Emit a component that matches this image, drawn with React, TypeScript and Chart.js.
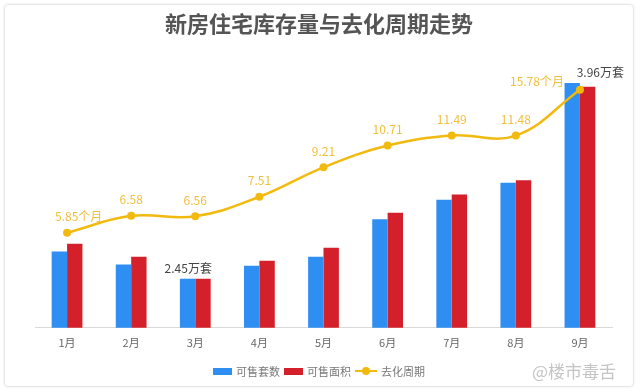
import React, { useEffect, useRef } from "react";
import { Chart, registerables } from "chart.js";

Chart.register(...registerables);

const months = ["1月", "2月", "3月", "4月", "5月", "6月", "7月", "8月", "9月"];
// 可售套数 (万套)
const unitsForSale = [2.66, 2.56, 2.45, 2.55, 2.62, 2.91, 3.06, 3.19, 3.96];
// 可售面积 (same visual scale)
const areaForSale = [2.72, 2.62, 2.45, 2.59, 2.69, 2.96, 3.1, 3.21, 3.93];
// 去化周期 (个月)
const cycleMonths = [5.85, 6.58, 6.56, 7.51, 9.21, 10.71, 11.49, 11.48, 15.78];
const cycleLabels = ["5.85个月", "6.58", "6.56", "7.51", "9.21", "10.71", "11.49", "11.48", "15.78个月"];
const barLabels = ["", "", "2.45万套", "", "", "", "", "", "3.96万套"];
const seriesNames = ["可售套数", "可售面积", "去化周期"];
const titleText = "新房住宅库存量与去化周期走势";
const watermark = "@楼市毒舌";

const BLUE = "#2f8ef2";
const RED = "#d3202a";
const GOLD = "#f2b90f";
const GOLD_TEXT = "#f0bf3c";
const FONT = "'Noto Sans CJK SC', 'Noto Sans', sans-serif";

const labelPlugin = {
  id: "valueLabels",
  afterDatasetsDraw(chart: any) {
    const ctx = chart.ctx;
    ctx.save();
    ctx.textBaseline = "middle";
    const lineMeta = chart.getDatasetMeta(2);
    ctx.fillStyle = GOLD_TEXT;
    ctx.font = `12px ${FONT}`;
    lineMeta.data.forEach((pt: any, i: number) => {
      const last = i === cycleLabels.length - 1;
      if (last) {
        ctx.textAlign = "right";
        ctx.fillText(cycleLabels[i], pt.x - 16, pt.y - 8);
      } else if (i === 0) {
        ctx.textAlign = "left";
        ctx.fillText(cycleLabels[i], pt.x - 12, pt.y - 16);
      } else {
        ctx.textAlign = "center";
        ctx.fillText(cycleLabels[i], pt.x, pt.y - 16);
      }
    });
    const blueMeta = chart.getDatasetMeta(0);
    const redMeta = chart.getDatasetMeta(1);
    ctx.fillStyle = "#444";
    ctx.font = `12px ${FONT}`;
    barLabels.forEach((txt, i) => {
      if (!txt) return;
      const b = blueMeta.data[i];
      const r = redMeta.data[i];
      const top = Math.min(b.y, r.y);
      if (i === barLabels.length - 1) {
        ctx.textAlign = "left";
        ctx.fillText(txt, r.x - 11, top - 11);
      } else {
        ctx.textAlign = "center";
        ctx.fillText(txt, (b.x + r.x) / 2 - 7, top - 10);
      }
    });
    ctx.restore();
  },
};

export default function App() {
  const canvasRef = useRef<HTMLCanvasElement | null>(null);

  useEffect(() => {
    if (!canvasRef.current) return;
    const chart = new Chart(canvasRef.current, {
      type: "bar",
      data: {
        labels: months,
        datasets: [
          {
            type: "bar",
            label: seriesNames[0],
            data: unitsForSale,
            backgroundColor: BLUE,
            yAxisID: "y",
            order: 1,
            categoryPercentage: 0.48,
            barPercentage: 1.0,
          },
          {
            type: "bar",
            label: seriesNames[1],
            data: areaForSale,
            backgroundColor: RED,
            yAxisID: "y",
            order: 1,
            categoryPercentage: 0.48,
            barPercentage: 1.0,
          },
          {
            type: "line",
            label: seriesNames[2],
            data: cycleMonths,
            borderColor: GOLD,
            backgroundColor: GOLD,
            borderWidth: 2.5,
            pointRadius: 4,
            pointBackgroundColor: GOLD,
            pointBorderWidth: 0,
            tension: 0.4,
            yAxisID: "y2",
            order: 0,
          } as any,
        ],
      },
      options: {
        responsive: false,
        animation: false,
        layout: { padding: { left: 35, right: 28, top: 60, bottom: 43 } },
        plugins: {
          legend: { display: false },
          title: { display: false },
          tooltip: { enabled: false },
        },
        scales: {
          x: {
            grid: { display: false },
            border: { display: true, color: "#d9d9d9", width: 1 },
            ticks: { color: "#666", font: { family: FONT, size: 11 }, padding: 0 },
          },
          y: {
            display: false,
            min: 2.0725,
            max: 4.137,
          },
          y2: {
            type: "logarithmic",
            display: false,
            min: 3.029,
            max: 19.38,
          },
        },
      },
      plugins: [labelPlugin],
    });
    return () => chart.destroy();
  }, []);

  const legendText: React.CSSProperties = { fontSize: 11, color: "#777", marginRight: 4, marginLeft: 4 };

  return (
    <div
      style={{
        position: "fixed",
        left: 0,
        top: 0,
        width: 640,
        height: 392,
        background: "#fff",
        fontFamily: FONT,
        overflow: "hidden",
      }}
    >
      <div
        style={{
          position: "absolute",
          left: 4,
          top: 4,
          width: 628,
          height: 381,
          border: "1.5px solid #e6e6e6",
          borderRadius: 4,
          boxShadow: "0 0 3px rgba(0,0,0,0.08)",
        }}
      />
      <canvas ref={canvasRef} width={640} height={392} style={{ position: "absolute", left: 0, top: 0 }} />
      <div
        style={{
          position: "absolute",
          left: 0,
          width: 638,
          top: 8,
          textAlign: "center",
          fontSize: 22,
          fontWeight: 700,
          color: "#555",
          lineHeight: "28px",
        }}
      >
        {titleText}
      </div>
      <div
        style={{
          position: "absolute",
          left: 213,
          top: 363,
          display: "flex",
          alignItems: "center",
          height: 16,
        }}
      >
        <span style={{ display: "inline-block", width: 19, height: 7, background: BLUE }} />
        <span style={legendText}>{seriesNames[0]}</span>
        <span style={{ display: "inline-block", width: 19, height: 7, background: RED }} />
        <span style={legendText}>{seriesNames[1]}</span>
        <span style={{ position: "relative", display: "inline-block", width: 22, height: 8 }}>
          <span style={{ position: "absolute", left: 0, top: 3, width: 22, height: 2, background: GOLD }} />
          <span
            style={{
              position: "absolute",
              left: 7,
              top: 0,
              width: 8,
              height: 8,
              borderRadius: 4,
              background: GOLD,
            }}
          />
        </span>
        <span style={legendText}>{seriesNames[2]}</span>
      </div>
      <div
        style={{
          position: "absolute",
          left: 532,
          top: 360,
          fontSize: 17,
          color: "#c4c4c4",
          lineHeight: "22px",
        }}
      >
        {watermark}
      </div>
    </div>
  );
}
